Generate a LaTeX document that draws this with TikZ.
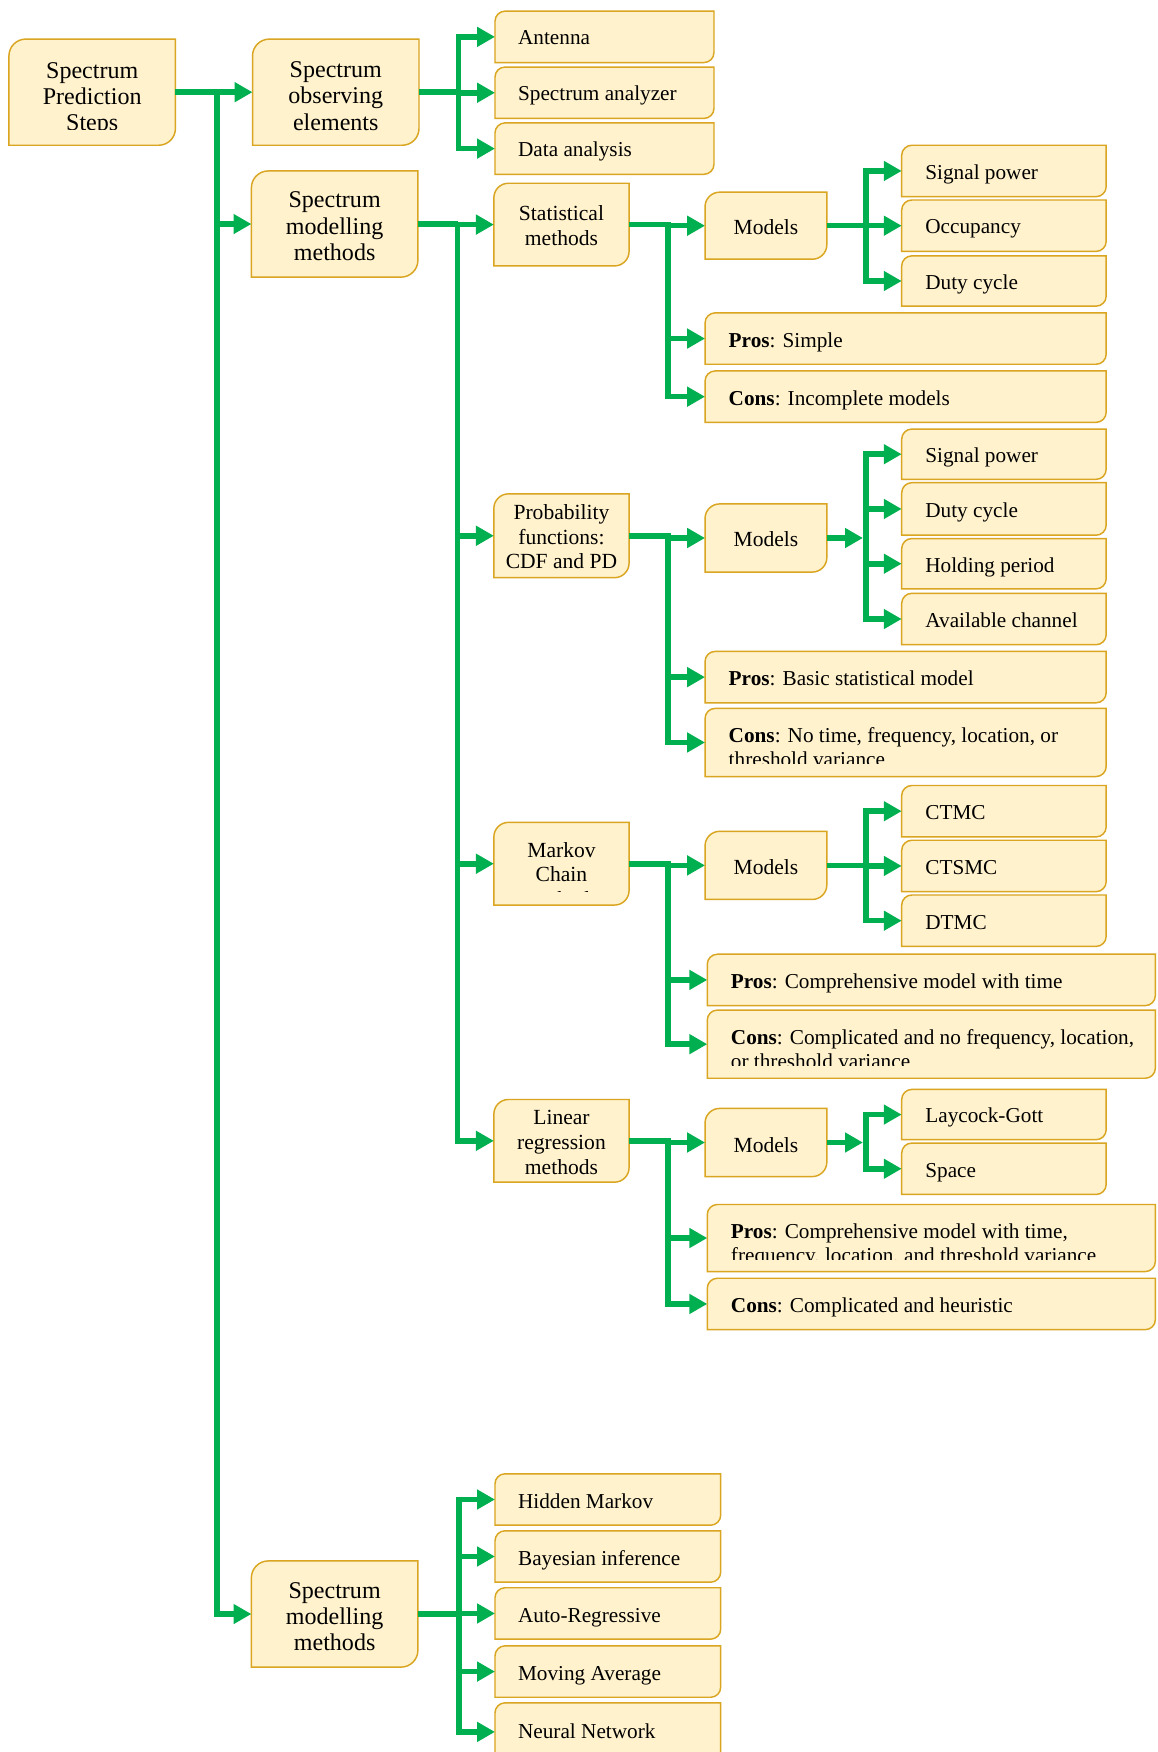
\documentclass[tikz,border=0pt]{standalone}
\usepackage{fontspec}
\setmainfont{Liberation Serif}
\usetikzlibrary{arrows.meta}
\definecolor{bfill}{HTML}{FFF2CC}
\definecolor{bedge}{HTML}{DAA520}
\definecolor{agreen}{HTML}{00B050}
\newcommand\fbig{\fontsize{21.5}{23.5}\selectfont}
\newcommand\fmid{\fontsize{19.3}{22}\selectfont}
\newcommand\fsm{\fontsize{19}{21}\selectfont}
\tikzset{
 boxline/.style={fill=bfill, draw=bedge, line width=1.3pt},
 boxnode/.style={inner sep=0pt, outer sep=0pt, draw=none, fill=none, rectangle},
 conn/.style={draw=agreen, line width=5pt},
 vconn/.style={conn, line cap=rect},
 arr/.style={conn, -{Triangle[length=16pt,width=17pt]}},
 lbl/.style={inner sep=0pt, font=\fsm, anchor=west, text height=17.5pt, text depth=4pt},
 lbltwo/.style={inner sep=0pt, font=\fsm, anchor=west, align=left},
 cbig/.style={inner sep=0pt, font=\fbig, align=center},
 cmid/.style={inner sep=0pt, font=\fmid, align=center},
}
% name, x1, y1, x2, y2, radius
\newcommand\mybox[6]{%
  \path[boxline] (#2,#3+#6) .. controls (#2,#3+0.45*#6) and (#2+0.45*#6,#3) .. (#2+#6,#3) -- (#4,#3) -- (#4,#5-#6) .. controls (#4,#5-0.45*#6) and (#4-0.45*#6,#5) .. (#4-#6,#5) -- (#2,#5) -- cycle;
  \node[boxnode, minimum width={(#4)-(#2)}, minimum height={(#5)-(#3)}] (#1) at ({((#2)+(#4))/2},{((#3)+(#5))/2}) {};
}
\begin{document}
\begin{tikzpicture}[x=1pt,y=-1pt]
\useasboundingbox (0,0) rectangle (1036,1568);
\fill[white] (0,0) rectangle (1036,1568);

% ---------- boxes ----------
\mybox{A}{8}{35}{157}{130}{15}
\mybox{B1}{226}{35}{375}{130}{15}
\mybox{B2}{225}{153}{374}{248}{15}
\mybox{B3}{225}{1397}{374}{1492}{15}

\mybox{Ant}{443}{10}{639}{56}{9}
\mybox{Ana}{443}{60}{639}{106}{9}
\mybox{Dat}{443}{110}{639}{156}{9}

\mybox{S}{442}{164}{563}{238}{13}
\mybox{P}{442}{442}{563}{517}{13}
\mybox{M}{442}{736}{563}{810}{13}
\mybox{L}{442}{984}{563}{1058}{13}

\mybox{SM}{631}{172}{740}{232}{13}
\mybox{PM}{631}{451}{740}{512}{13}
\mybox{MM}{631}{744}{740}{805}{13}
\mybox{LM}{631}{992}{740}{1053}{13}

\mybox{S1}{807}{130}{990}{176}{9}
\mybox{S2}{807}{179}{990}{225}{9}
\mybox{S3}{807}{229}{990}{274}{9}
\mybox{Spros}{631}{280}{990}{326}{9}
\mybox{Scons}{631}{332}{990}{378}{9}

\mybox{P1}{807}{384}{990}{429}{9}
\mybox{P2}{807}{432}{990}{479}{9}
\mybox{P3}{807}{482}{990}{527}{9}
\mybox{P4}{807}{531}{990}{577}{9}
\mybox{Ppros}{631}{583}{990}{629}{9}
\mybox{Pcons}{631}{634}{990}{695}{9}

\mybox{M1}{807}{703}{990}{749}{9}
\mybox{M2}{807}{752}{990}{798}{9}
\mybox{M3}{807}{801}{990}{847}{9}
\mybox{Mpros}{633}{854}{1034}{900}{9}
\mybox{Mcons}{633}{904}{1034}{965}{9}

\mybox{L1}{807}{975}{990}{1020}{9}
\mybox{L2}{807}{1023}{990}{1069}{9}
\mybox{Lpros}{633}{1078}{1034}{1138}{9}
\mybox{Lcons}{633}{1144}{1034}{1190}{9}

\mybox{N1}{443}{1319}{645}{1365}{9}
\mybox{N2}{443}{1370}{645}{1416}{9}
\mybox{N3}{443}{1421}{645}{1467}{9}
\mybox{N4}{443}{1473}{645}{1519}{9}
\mybox{N5}{443}{1524}{645}{1576}{9}

% ---------- texts ----------
\begin{scope}
\clip (8,35) rectangle (157,116);
\node[cbig] (tA) at (82.5,88.5) {Spectrum\\Prediction\\Steps};
\end{scope}
\node[cbig] (tB1) at (300.5,86) {Spectrum\\observing\\elements};
\node[cbig] (tB2) at (299.5,202.5) {Spectrum\\modelling\\methods};
\node[cbig] (tB3) at (299.5,1447) {Spectrum\\modelling\\methods};

\node[lbl] (tAnt) at (463.5,33.5) {Antenna};
\node[lbl] (tAna) at (463.5,83.5) {Spectrum analyzer};
\node[lbl] (tDat) at (463.5,133.5) {Data analysis};

\node[cmid] (tS) at (502.5,202) {Statistical\\methods};
\node[cmid] (tP) at (502.5,480.5) {Probability\\functions:\\CDF and PD};
\begin{scope}
\clip (442,736) rectangle (563,797.6);
\node[cmid] (tM) at (502.5,782.5) {Markov\\Chain\\methods};
\end{scope}
\node[cmid] (tL) at (502.5,1022.5) {Linear\\regression\\methods};

\node[cmid] (tSM) at (685.5,203) {Models};
\node[cmid] (tPM) at (685.5,482.5) {Models};
\node[cmid] (tMM) at (685.5,776) {Models};
\node[cmid] (tLM) at (685.5,1024.5) {Models};

\node[lbl] (tS1) at (828,153.5) {Signal power};
\node[lbl] (tS2) at (828,202.5) {Occupancy};
\node[lbl] (tS3) at (828,252) {Duty cycle};
\node[lbl] (tSpros) at (652,304) {\textbf{Pros}: Simple};
\node[lbl] (tScons) at (652,356) {\textbf{Cons}: Incomplete models};

\node[lbl] (tP1) at (828,407.5) {Signal power};
\node[lbl] (tP2) at (828,456.5) {Duty cycle};
\node[lbl] (tP3) at (828,505.5) {Holding period};
\node[lbl] (tP4) at (828,555) {Available channel};
\node[lbl] (tPpros) at (652,607) {\textbf{Pros}: Basic statistical model};
\begin{scope}
\clip (631,634) rectangle (990,683);
\node[lbltwo] (tPcons) at (652,668.5) {\textbf{Cons}: No time, frequency, location, or\\threshold variance};
\end{scope}

\node[lbl] (tM1) at (828,726.5) {CTMC};
\node[lbl] (tM2) at (828,775.5) {CTSMC};
\node[lbl] (tM3) at (828,825) {DTMC};
\node[lbl] (tMpros) at (654,878) {\textbf{Pros}: Comprehensive model with time};
\begin{scope}
\clip (633,904) rectangle (1034,953.6);
\node[lbltwo] (tMcons) at (654,939) {\textbf{Cons}: Complicated and no frequency, location,\\or threshold variance};
\end{scope}

\node[lbl] (tL1) at (828,998) {Laycock-Gott};
\node[lbl] (tL2) at (828,1047) {Space};
\begin{scope}
\clip (633,1078) rectangle (1034,1127.5);
\node[lbltwo] (tLpros) at (654,1114.5) {\textbf{Pros}: Comprehensive model with time,\\frequency, location, and threshold variance};
\end{scope}
\node[lbl] (tLcons) at (654,1168) {\textbf{Cons}: Complicated and heuristic};

\node[lbl] (tN1) at (463.5,1343) {Hidden Markov};
\node[lbl] (tN2) at (463.5,1394) {Bayesian inference};
\node[lbl] (tN3) at (463.5,1445.5) {Auto-Regressive};
\node[lbl] (tN4) at (463.5,1497) {Moving Average};
\node[lbl] (tN5) at (463.5,1549) {Neural Network};

% ---------- connectors ----------
\coordinate (tr) at (194,0);
\draw[vconn] (tr |- A.east) -- (tr |- B3.west);
\draw[arr] (A.east) -- (B1.west);
\draw[arr] (tr |- B2.west) -- (B2.west);
\draw[arr] (tr |- B3.west) -- (B3.west);

\coordinate (v1) at (410.5,0);
\draw[conn] (B1.east) -- (v1 |- B1.east);
\draw[vconn] (v1 |- Ant.west) -- (v1 |- Dat.west);
\foreach \n in {Ant,Ana,Dat} \draw[arr] (v1 |- \n.west) -- (\n.west);

\coordinate (v2) at (409.5,0);
\draw[conn] (B2.east) -- (v2 |- B2.east);
\draw[vconn] (v2 |- S.west) -- (v2 |- L.west);
\foreach \n in {S,P,M,L} \draw[arr] (v2 |- \n.west) -- (\n.west);

\coordinate (vs) at (597.7,0);
\coordinate (vm) at (774.8,0);
\coordinate (vmt) at (772.3,0);

% statistical
\draw[conn] (S.east) -- (vs |- S.east);
\draw[vconn] (vs |- S.east) -- (vs |- Scons.west);
\foreach \n in {SM,Spros,Scons} \draw[arr] (vs |- \n.west) -- (\n.west);
\draw[conn] (SM.east) -- (vm |- SM.east);
\draw[vconn] (vm |- S1.west) -- (vm |- S3.west);
\foreach \n in {S1,S2,S3} \draw[arr] (vm |- \n.west) -- (\n.west);

% probability
\draw[conn] (P.east) -- (vs |- P.east);
\draw[vconn] (vs |- P.east) -- (vs |- Pcons.west);
\foreach \n in {PM,Ppros,Pcons} \draw[arr] (vs |- \n.west) -- (\n.west);
\draw[arr] (PM.east) -- (vmt |- PM.east);
\draw[vconn] (vm |- P1.west) -- (vm |- P4.west);
\foreach \n in {P1,P2,P3,P4} \draw[arr] (vm |- \n.west) -- (\n.west);

% markov
\draw[conn] (M.east) -- (vs |- M.east);
\draw[vconn] (vs |- M.east) -- (vs |- Mcons.west);
\foreach \n in {MM,Mpros,Mcons} \draw[arr] (vs |- \n.west) -- (\n.west);
\draw[conn] (MM.east) -- (vm |- MM.east);
\draw[vconn] (vm |- M1.west) -- (vm |- M3.west);
\foreach \n in {M1,M2,M3} \draw[arr] (vm |- \n.west) -- (\n.west);

% linear
\draw[conn] (L.east) -- (vs |- L.east);
\draw[vconn] (vs |- L.east) -- (vs |- Lcons.west);
\foreach \n in {LM,Lpros,Lcons} \draw[arr] (vs |- \n.west) -- (\n.west);
\draw[arr] (LM.east) -- (vmt |- LM.east);
\draw[vconn] (vm |- L1.west) -- (vm |- L2.west);
\foreach \n in {L1,L2} \draw[arr] (vm |- \n.west) -- (\n.west);

% lower group
\coordinate (v3) at (411,0);
\draw[conn] (B3.east) -- (v3 |- B3.east);
\draw[vconn] (v3 |- N1.west) -- (v3 |- N5.west);
\foreach \n in {N1,N2,N3,N4,N5} \draw[arr] (v3 |- \n.west) -- (\n.west);
\end{tikzpicture}
\end{document}
